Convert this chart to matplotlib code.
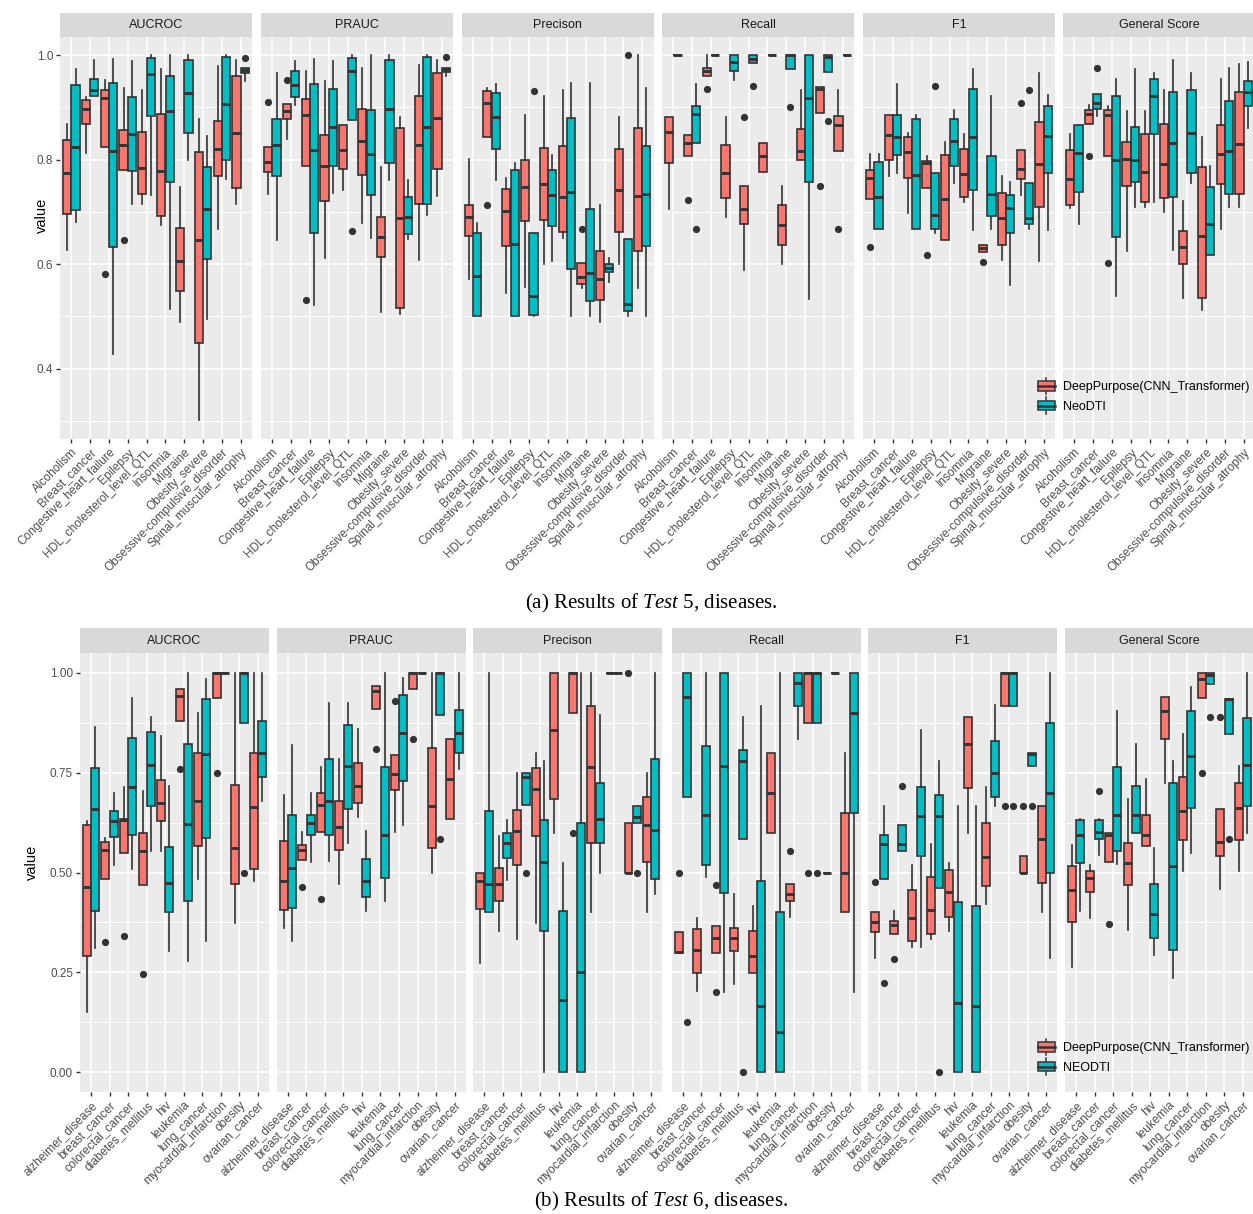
#!/usr/bin/env python3
"""Faceted boxplots: DeepPurpose vs NeoDTI per disease, Test 5 and Test 6."""

import matplotlib
matplotlib.use("Agg")
import matplotlib.pyplot as plt
import numpy as np
from matplotlib.legend_handler import HandlerBase
from matplotlib.patches import Patch, Rectangle
from matplotlib.lines import Line2D

# ---------------------------------------------------------------- data
# each box: (whisker_low, q1, median, q3, whisker_high, [outliers])
METRICS = ["AUCROC", "PRAUC", "Precison", "Recall", "F1", "General Score"]

T5_CATS = ["Alcoholism", "Breast_cancer", "Congestive_heart_failure", "Epilepsy",
           "HDL_cholesterol_level_QTL", "Insomnia", "Migraine", "Obesity_severe",
           "Obsessive-compulsive_disorder", "Spinal_muscular_atrophy"]
T6_CATS = ["alzheimer_disease", "breast_cancer", "colorectal_cancer", "diabetes_mellitus",
           "hiv", "leukemia", "lung_cancer", "myocardial_infarction", "obesity",
           "ovarian_cancer"]

t5_auc_dp = [(0.627, 0.696, 0.774, 0.837, 0.869, []), (0.812, 0.869, 0.896, 0.914, 0.920, []),
             (0.825, 0.825, 0.917, 0.934, 0.953, [0.582]), (0.780, 0.780, 0.828, 0.857, 0.936, [0.647]),
             (0.716, 0.734, 0.783, 0.853, 0.934, []), (0.674, 0.693, 0.779, 0.887, 0.973, []),
             (0.490, 0.549, 0.607, 0.670, 0.748, []), (0.303, 0.450, 0.647, 0.815, 0.877, []),
             (0.667, 0.769, 0.821, 0.874, 0.979, []), (0.715, 0.745, 0.851, 0.959, 0.990, [])]
t5_auc_neo = [(0.680, 0.704, 0.825, 0.943, 0.973, []), (0.922, 0.922, 0.933, 0.955, 0.990, []),
              (0.428, 0.632, 0.817, 0.947, 0.992, []), (0.716, 0.779, 0.849, 0.919, 0.989, []),
              (0.732, 0.883, 0.964, 0.995, 1.000, []), (0.515, 0.758, 0.893, 0.959, 1.000, []),
              (0.799, 0.851, 0.927, 0.990, 1.000, []), (0.496, 0.609, 0.706, 0.786, 0.845, []),
              (0.762, 0.799, 0.906, 0.997, 1.000, []), (0.950, 0.965, 0.971, 0.976, 0.976, [0.995])]

t5_pr_dp = [(0.735, 0.777, 0.796, 0.825, 0.825, [0.910]), (0.839, 0.877, 0.892, 0.906, 0.906, [0.953]),
            (0.788, 0.788, 0.885, 0.915, 0.969, [0.531]), (0.611, 0.721, 0.788, 0.847, 0.951, []),
            (0.742, 0.782, 0.818, 0.867, 0.867, []), (0.678, 0.770, 0.835, 0.896, 0.976, []),
            (0.509, 0.613, 0.652, 0.691, 0.785, []), (0.505, 0.517, 0.688, 0.860, 0.881, []),
            (0.608, 0.715, 0.828, 0.922, 0.981, []), (0.731, 0.782, 0.879, 0.965, 0.990, [])]
t5_pr_neo = [(0.647, 0.769, 0.828, 0.877, 0.966, []), (0.904, 0.919, 0.943, 0.969, 0.989, []),
             (0.522, 0.660, 0.818, 0.945, 0.992, []), (0.737, 0.788, 0.862, 0.935, 0.989, []),
             (0.876, 0.876, 0.970, 0.995, 1.000, [0.664]), (0.651, 0.733, 0.811, 0.894, 1.000, []),
             (0.761, 0.794, 0.896, 0.990, 1.000, []), (0.648, 0.657, 0.691, 0.729, 0.761, []),
             (0.694, 0.715, 0.862, 0.997, 1.000, []), (0.960, 0.967, 0.973, 0.976, 0.976, [0.996])]

t5_prec_dp = [(0.571, 0.654, 0.691, 0.713, 0.802, []), (0.844, 0.844, 0.908, 0.932, 0.936, [0.714]),
              (0.545, 0.635, 0.702, 0.744, 0.764, []), (0.557, 0.683, 0.748, 0.800, 0.885, []),
              (0.600, 0.684, 0.753, 0.823, 0.922, []), (0.651, 0.662, 0.728, 0.826, 0.933, []),
              (0.554, 0.562, 0.575, 0.603, 0.603, [0.667]), (0.490, 0.531, 0.571, 0.626, 0.713, []),
              (0.600, 0.661, 0.741, 0.820, 0.882, []), (0.555, 0.626, 0.730, 0.860, 1.000, [])]
t5_prec_neo = [(0.501, 0.501, 0.577, 0.660, 0.679, []), (0.761, 0.821, 0.882, 0.928, 0.945, []),
               (0.501, 0.501, 0.638, 0.780, 0.794, []), (0.501, 0.503, 0.539, 0.659, 0.659, [0.931]),
               (0.606, 0.673, 0.733, 0.781, 0.809, []), (0.501, 0.590, 0.739, 0.879, 0.947, []),
               (0.501, 0.529, 0.584, 0.705, 0.947, []), (0.566, 0.586, 0.593, 0.600, 0.611, []),
               (0.501, 0.511, 0.524, 0.649, 0.649, [1.000]), (0.501, 0.635, 0.735, 0.826, 0.936, [])]

t5_rec_dp = [(0.705, 0.793, 0.853, 0.882, 0.882, []), (0.806, 0.806, 0.832, 0.847, 0.847, [0.723]),
             (0.959, 0.959, 0.969, 0.976, 1.000, [0.935]), (0.691, 0.726, 0.774, 0.828, 0.881, []),
             (0.589, 0.676, 0.705, 0.749, 0.749, [0.882]), (0.777, 0.777, 0.806, 0.832, 0.832, []),
             (0.600, 0.637, 0.675, 0.713, 0.749, []), (0.799, 0.799, 0.817, 0.858, 0.933, []),
             (0.890, 0.890, 0.935, 0.938, 0.938, [0.750]), (0.816, 0.816, 0.866, 0.883, 0.933, [0.667])]
t5_rec_neo = [(1.0, 1.0, 1.0, 1.0, 1.0, []), (0.832, 0.832, 0.888, 0.902, 0.945, [0.667]),
              (1.0, 1.0, 1.0, 1.0, 1.0, []), (0.952, 0.969, 0.987, 1.000, 1.000, []),
              (0.985, 0.985, 0.992, 1.000, 1.000, [0.941]), (1.0, 1.0, 1.0, 1.0, 1.0, []),
              (0.973, 0.973, 1.000, 1.000, 1.000, [0.900]), (0.533, 0.758, 0.917, 1.000, 1.000, []),
              (0.968, 0.968, 0.997, 1.000, 1.000, [0.874]), (1.0, 1.0, 1.0, 1.0, 1.0, [])]

t5_f1_dp = [(0.724, 0.724, 0.764, 0.780, 0.811, [0.632]), (0.769, 0.800, 0.847, 0.885, 0.885, []),
            (0.697, 0.765, 0.815, 0.843, 0.850, []), (0.746, 0.746, 0.794, 0.798, 0.806, [0.617]),
            (0.646, 0.646, 0.725, 0.809, 0.833, []), (0.718, 0.728, 0.772, 0.820, 0.849, []),
            (0.624, 0.624, 0.631, 0.637, 0.637, [0.605]), (0.608, 0.637, 0.688, 0.737, 0.768, []),
            (0.732, 0.763, 0.782, 0.818, 0.818, [0.909]), (0.607, 0.709, 0.791, 0.871, 0.966, [])]
t5_f1_neo = [(0.667, 0.667, 0.729, 0.795, 0.811, []), (0.774, 0.809, 0.844, 0.885, 0.945, []),
             (0.667, 0.667, 0.770, 0.877, 0.885, []), (0.660, 0.668, 0.695, 0.775, 0.775, [0.941]),
             (0.755, 0.788, 0.836, 0.877, 0.895, []), (0.665, 0.741, 0.844, 0.935, 0.973, []),
             (0.667, 0.692, 0.735, 0.807, 0.922, []), (0.560, 0.660, 0.708, 0.732, 0.758, []),
             (0.667, 0.677, 0.688, 0.755, 0.755, [0.933]), (0.665, 0.775, 0.845, 0.902, 0.923, [])]

t5_gen_dp = [(0.707, 0.714, 0.763, 0.818, 0.849, []), (0.868, 0.868, 0.887, 0.895, 0.904, [0.806]),
             (0.807, 0.807, 0.885, 0.894, 0.902, [0.603]), (0.625, 0.750, 0.802, 0.833, 0.892, []),
             (0.710, 0.718, 0.777, 0.848, 0.892, []), (0.699, 0.726, 0.792, 0.868, 0.933, []),
             (0.535, 0.600, 0.632, 0.663, 0.721, []), (0.512, 0.535, 0.654, 0.785, 0.843, []),
             (0.668, 0.753, 0.811, 0.867, 0.955, []), (0.709, 0.734, 0.829, 0.930, 0.983, [])]
t5_gen_neo = [(0.676, 0.739, 0.812, 0.866, 0.866, []), (0.883, 0.896, 0.908, 0.925, 0.925, [0.975]),
              (0.539, 0.652, 0.800, 0.922, 0.955, []), (0.709, 0.758, 0.800, 0.863, 0.973, []),
              (0.718, 0.849, 0.922, 0.955, 0.965, []), (0.628, 0.728, 0.832, 0.929, 0.990, []),
              (0.755, 0.774, 0.851, 0.933, 0.965, []), (0.617, 0.617, 0.676, 0.748, 0.788, []),
              (0.709, 0.735, 0.817, 0.913, 0.976, []), (0.860, 0.902, 0.930, 0.951, 0.986, [])]

t6_auc_dp = [(0.150, 0.291, 0.464, 0.618, 0.628, []), (0.483, 0.483, 0.556, 0.577, 0.587, [0.327]),
             (0.550, 0.550, 0.631, 0.633, 0.714, [0.342]), (0.468, 0.468, 0.553, 0.600, 0.703, [0.246]),
             (0.553, 0.628, 0.675, 0.731, 0.842, []), (0.878, 0.878, 0.942, 0.960, 0.960, [0.760]),
             (0.483, 0.566, 0.679, 0.800, 0.898, []), (0.937, 0.937, 1.000, 1.000, 1.000, [0.749]),
             (0.374, 0.470, 0.562, 0.718, 1.000, []), (0.478, 0.508, 0.663, 0.800, 1.000, [])]
t6_auc_neo = [(0.312, 0.403, 0.658, 0.762, 0.864, []), (0.520, 0.589, 0.628, 0.653, 0.698, []),
              (0.508, 0.593, 0.714, 0.837, 0.937, []), (0.553, 0.666, 0.768, 0.852, 0.889, []),
              (0.303, 0.400, 0.474, 0.564, 0.716, []), (0.278, 0.428, 0.621, 0.821, 1.000, []),
              (0.328, 0.587, 0.796, 0.933, 0.983, []), (1.0, 1.0, 1.0, 1.0, 1.0, []),
              (0.874, 0.874, 1.000, 1.000, 1.000, [0.500]), (0.679, 0.739, 0.800, 0.879, 1.000, [])]

t6_pr_dp = [(0.360, 0.406, 0.479, 0.578, 0.695, []), (0.531, 0.531, 0.556, 0.570, 0.602, [0.463]),
            (0.602, 0.602, 0.668, 0.698, 0.764, [0.433]), (0.470, 0.556, 0.614, 0.678, 0.785, []),
            (0.638, 0.675, 0.717, 0.775, 0.860, []), (0.908, 0.908, 0.954, 0.966, 0.966, [0.808]),
            (0.602, 0.706, 0.746, 0.793, 0.793, [0.929]), (0.958, 0.958, 1.000, 1.000, 1.000, [0.833]),
            (0.500, 0.562, 0.667, 0.812, 1.000, []), (0.633, 0.633, 0.735, 0.835, 0.835, [])]
t6_pr_neo = [(0.329, 0.412, 0.512, 0.643, 0.820, []), (0.527, 0.595, 0.624, 0.645, 0.698, []),
             (0.528, 0.595, 0.678, 0.783, 0.923, []), (0.575, 0.658, 0.766, 0.868, 0.924, []),
             (0.403, 0.438, 0.479, 0.533, 0.604, []), (0.429, 0.485, 0.595, 0.764, 1.000, []),
             (0.620, 0.728, 0.849, 0.945, 0.987, []), (1.0, 1.0, 1.0, 1.0, 1.0, []),
             (0.895, 0.895, 1.000, 1.000, 1.000, [0.583]), (0.758, 0.800, 0.848, 0.906, 1.000, [])]

t6_prec_dp = [(0.273, 0.408, 0.478, 0.500, 0.500, []), (0.353, 0.428, 0.470, 0.512, 0.591, []),
              (0.333, 0.520, 0.603, 0.656, 0.749, []), (0.374, 0.592, 0.710, 0.762, 0.799, []),
              (0.598, 0.685, 0.857, 1.000, 1.000, []), (0.899, 0.899, 1.000, 1.000, 1.000, [0.600]),
              (0.400, 0.575, 0.763, 0.917, 1.000, []), (1.0, 1.0, 1.0, 1.0, 1.0, []),
              (0.500, 0.500, 0.500, 0.624, 0.624, [1.000]), (0.400, 0.527, 0.620, 0.688, 0.749, [])]
t6_prec_neo = [(0.400, 0.400, 0.470, 0.653, 1.000, []), (0.481, 0.537, 0.573, 0.600, 0.631, []),
               (0.670, 0.670, 0.739, 0.749, 0.749, [0.500]), (0.000, 0.353, 0.527, 0.631, 0.778, []),
               (0.000, 0.000, 0.181, 0.403, 0.524, []), (0.000, 0.000, 0.250, 0.624, 1.000, []),
               (0.500, 0.575, 0.635, 0.723, 0.895, []), (1.0, 1.0, 1.0, 1.0, 1.0, []),
               (0.624, 0.624, 0.640, 0.667, 0.667, [0.500]), (0.445, 0.483, 0.606, 0.785, 1.000, [])]

t6_rec_dp = [(0.298, 0.298, 0.300, 0.350, 0.350, [0.500]), (0.203, 0.249, 0.306, 0.358, 0.387, []),
             (0.299, 0.299, 0.335, 0.366, 0.366, [0.468, 0.200]), (0.221, 0.304, 0.335, 0.362, 0.445, []),
             (0.249, 0.249, 0.291, 0.354, 0.416, []), (0.600, 0.600, 0.699, 0.800, 0.800, []),
             (0.389, 0.429, 0.445, 0.471, 0.471, [0.554]), (0.874, 0.874, 1.000, 1.000, 1.000, [0.500]),
             (0.5, 0.5, 0.5, 0.5, 0.5, []), (0.400, 0.400, 0.500, 0.649, 0.800, [])]
t6_rec_neo = [(0.688, 0.688, 0.938, 1.000, 1.000, [0.125]), (0.489, 0.520, 0.643, 0.816, 1.000, []),
              (0.200, 0.449, 0.767, 1.000, 1.000, []), (0.583, 0.583, 0.778, 0.806, 0.889, [0.000]),
              (0.000, 0.000, 0.167, 0.479, 0.916, []), (0.000, 0.000, 0.100, 0.400, 1.000, []),
              (0.833, 0.916, 0.973, 1.000, 1.000, []), (0.874, 0.874, 1.000, 1.000, 1.000, [0.500]),
              (1.0, 1.0, 1.0, 1.0, 1.0, []), (0.200, 0.649, 0.899, 1.000, 1.000, [])]

t6_f1_dp = [(0.285, 0.352, 0.377, 0.400, 0.400, [0.477]), (0.345, 0.345, 0.368, 0.378, 0.404, [0.283]),
            (0.314, 0.329, 0.385, 0.456, 0.518, []), (0.333, 0.346, 0.406, 0.489, 0.571, []),
            (0.353, 0.388, 0.452, 0.506, 0.525, []), (0.599, 0.712, 0.821, 0.888, 0.888, []),
            (0.421, 0.467, 0.538, 0.623, 0.713, []), (0.916, 0.916, 1.000, 1.000, 1.000, [0.666]),
            (0.498, 0.498, 0.500, 0.542, 0.542, [0.666]), (0.400, 0.474, 0.583, 0.666, 0.666, [])]
t6_f1_neo = [(0.483, 0.483, 0.571, 0.595, 0.666, [0.223]), (0.554, 0.554, 0.571, 0.618, 0.618, [0.716]),
             (0.314, 0.541, 0.641, 0.713, 0.856, []), (0.462, 0.462, 0.641, 0.693, 0.778, [0.000]),
             (0.000, 0.000, 0.174, 0.427, 0.666, []), (0.000, 0.000, 0.167, 0.416, 0.666, []),
             (0.666, 0.689, 0.749, 0.829, 0.918, []), (0.916, 0.916, 1.000, 1.000, 1.000, [0.666]),
             (0.767, 0.767, 0.796, 0.800, 0.800, [0.666]), (0.285, 0.499, 0.700, 0.874, 1.000, [])]

t6_gen_dp = [(0.264, 0.375, 0.456, 0.517, 0.568, []), (0.385, 0.450, 0.485, 0.503, 0.518, []),
             (0.527, 0.527, 0.595, 0.598, 0.598, [0.370]), (0.356, 0.468, 0.523, 0.575, 0.685, []),
             (0.567, 0.567, 0.595, 0.643, 0.733, []), (0.723, 0.833, 0.903, 0.939, 0.939, []),
             (0.503, 0.581, 0.654, 0.739, 0.846, []), (0.937, 0.937, 0.985, 1.000, 1.000, [0.750]),
             (0.458, 0.542, 0.577, 0.660, 0.660, [0.888]), (0.503, 0.581, 0.662, 0.724, 0.767, [])]
t6_gen_neo = [(0.403, 0.523, 0.595, 0.631, 0.635, []), (0.545, 0.583, 0.602, 0.631, 0.635, [0.704]),
              (0.521, 0.554, 0.643, 0.764, 0.903, []), (0.598, 0.598, 0.643, 0.717, 0.821, []),
              (0.293, 0.337, 0.395, 0.471, 0.562, []), (0.237, 0.306, 0.517, 0.723, 0.778, []),
              (0.548, 0.662, 0.792, 0.903, 0.963, []), (0.971, 0.971, 0.993, 1.000, 1.000, [0.888]),
              (0.846, 0.846, 0.933, 0.933, 0.933, [0.583]), (0.600, 0.667, 0.768, 0.887, 1.000, [])]

T5_DP = [t5_auc_dp, t5_pr_dp, t5_prec_dp, t5_rec_dp, t5_f1_dp, t5_gen_dp]
T5_NEO = [t5_auc_neo, t5_pr_neo, t5_prec_neo, t5_rec_neo, t5_f1_neo, t5_gen_neo]
T6_DP = [t6_auc_dp, t6_pr_dp, t6_prec_dp, t6_rec_dp, t6_f1_dp, t6_gen_dp]
T6_NEO = [t6_auc_neo, t6_pr_neo, t6_prec_neo, t6_rec_neo, t6_f1_neo, t6_gen_neo]

# ---------------------------------------------------------------- style
RED, TEAL = "#F8766D", "#00BFC4"
INK = "#333333"
W, H = 1253, 1214
plt.rcParams["font.family"] = ["Liberation Sans", "DejaVu Sans"]
plt.rcParams["mathtext.fontset"] = "custom"
plt.rcParams["mathtext.rm"] = "Liberation Serif"
plt.rcParams["mathtext.it"] = "Liberation Serif:italic"


class BoxKey(HandlerBase):
    """Small boxplot glyph for the legend, ggplot style."""

    def create_artists(self, legend, orig_handle, xdescent, ydescent,
                       width, height, fontsize, trans):
        x0, y0 = -xdescent, -ydescent
        cx = x0 + width / 2
        rect = Rectangle((x0, y0 + 0.15 * height), width, 0.7 * height,
                         facecolor=orig_handle.get_facecolor(), edgecolor=INK,
                         lw=1.1, transform=trans)
        med = Line2D([x0, x0 + width], [y0 + height / 2] * 2, color=INK, lw=1.8, transform=trans)
        w1 = Line2D([cx, cx], [y0 - 0.12 * height, y0 + 0.15 * height], color=INK, lw=1.1, transform=trans)
        w2 = Line2D([cx, cx], [y0 + 0.85 * height, y0 + 1.12 * height], color=INK, lw=1.1, transform=trans)
        return [w1, w2, rect, med]


def to_stats(series):
    return [dict(whislo=s[0], q1=s[1], med=s[2], q3=s[3], whishi=s[4], fliers=s[5]) for s in series]


def draw_facet(fig, left, top, width, height, strip_h, title, cats, dp, neo,
               ylim, major, minor, ylabels, first):
    ax = fig.add_axes([left / W, 1 - (top + height) / H, width / W, height / H])
    ax.set_facecolor("#EBEBEB")
    for s in ax.spines.values():
        s.set_visible(False)
    pos = np.arange(1, len(cats) + 1)
    for series, color, off in ((dp, RED, -0.225), (neo, TEAL, 0.225)):
        ax.bxp(to_stats(series), positions=pos + off, widths=0.43, patch_artist=True,
               showcaps=False, showfliers=True,
               boxprops=dict(facecolor=color, edgecolor=INK, linewidth=1.2),
               medianprops=dict(color=INK, linewidth=2.1),
               whiskerprops=dict(color=INK, linewidth=1.2),
               flierprops=dict(marker="o", markerfacecolor=INK, markeredgecolor="none",
                               markersize=5.2),
               manage_ticks=False)
    ax.set_xlim(0.4, len(cats) + 0.6)
    ax.set_ylim(*ylim)
    ax.set_xticks(pos)
    ax.set_xticklabels(cats, rotation=45, ha="right", va="top", rotation_mode="anchor",
                       fontsize=8.6, color="#4D4D4D")
    ax.set_yticks(major)
    ax.set_yticks(minor, minor=True)
    if first:
        ax.set_yticklabels(ylabels, fontsize=8.5, color="#4D4D4D")
        ax.tick_params(axis="y", which="major", length=3, width=1, color=INK, pad=2)
    else:
        ax.tick_params(axis="y", which="major", length=0, labelleft=False)
    ax.tick_params(axis="y", which="minor", length=0)
    ax.tick_params(axis="x", length=3, width=1, color=INK, pad=2)
    ax.grid(True, which="major", color="white", lw=1.1, zorder=0)
    ax.grid(True, which="minor", axis="y", color="white", lw=0.55, zorder=0)
    ax.set_axisbelow(True)

    sx = fig.add_axes([left / W, 1 - top / H, width / W, strip_h / H])
    sx.set_facecolor("#D9D9D9")
    sx.set_xticks([])
    sx.set_yticks([])
    for s in sx.spines.values():
        s.set_visible(False)
    sx.text(0.5, 0.5, title, ha="center", va="center", fontsize=9, color="#1A1A1A",
            transform=sx.transAxes)
    return ax


fig = plt.figure(figsize=(W / 100, H / 100), dpi=100)
fig.patch.set_facecolor("white")

# (a) Test 5
t5_left = [60, 261, 461.5, 662, 863, 1063]
for i, m in enumerate(METRICS):
    draw_facet(fig, t5_left[i], 36.7, 192, 402.7, 24, m, T5_CATS, T5_DP[i], T5_NEO[i],
               (0.265, 1.035), [0.4, 0.6, 0.8, 1.0], [0.3, 0.5, 0.7, 0.9],
               ["0.4", "0.6", "0.8", "1.0"], i == 0)
fig.text(42 / W, 1 - 215 / H, "value", rotation=90, ha="center", va="center", fontsize=10.5)

# (b) Test 6
t6_left = [80, 276.7, 473.3, 671.7, 868.3, 1065]
for i, m in enumerate(METRICS):
    draw_facet(fig, t6_left[i], 652.7, 189, 439.6, 24.4, m, T6_CATS, T6_DP[i], T6_NEO[i],
               (-0.05, 1.05), [0.0, 0.25, 0.5, 0.75, 1.0], [0.125, 0.375, 0.625, 0.875],
               ["0.00", "0.25", "0.50", "0.75", "1.00"], i == 0)
fig.text(32 / W, 1 - 862 / H, "value", rotation=90, ha="center", va="center", fontsize=10.5)

# legends
for y, second in ((396, "NeoDTI"), (1057, "NEODTI")):
    handles = [Patch(facecolor=RED), Patch(facecolor=TEAL)]
    fig.legend(handles, ["DeepPurpose(CNN_Transformer)", second],
               handler_map={Patch: BoxKey()}, loc="center left",
               bbox_to_anchor=(1027 / W, 1 - y / H), frameon=False, fontsize=9,
               handlelength=1.3, handleheight=1.3, labelspacing=0.45, handletextpad=0.7)

# captions
serif = ["Liberation Serif", "DejaVu Serif"]
fig.text(651 / W, 1 - 603 / H, "(a) Results of $\\mathit{Test}$ 5, diseases.", ha="center",
         va="center", fontsize=15, family=serif)
fig.text(661 / W, 1 - 1201 / H, "(b) Results of $\\mathit{Test}$ 6, diseases.", ha="center",
         va="center", fontsize=15, family=serif)

fig.savefig("out.png", dpi=100)
